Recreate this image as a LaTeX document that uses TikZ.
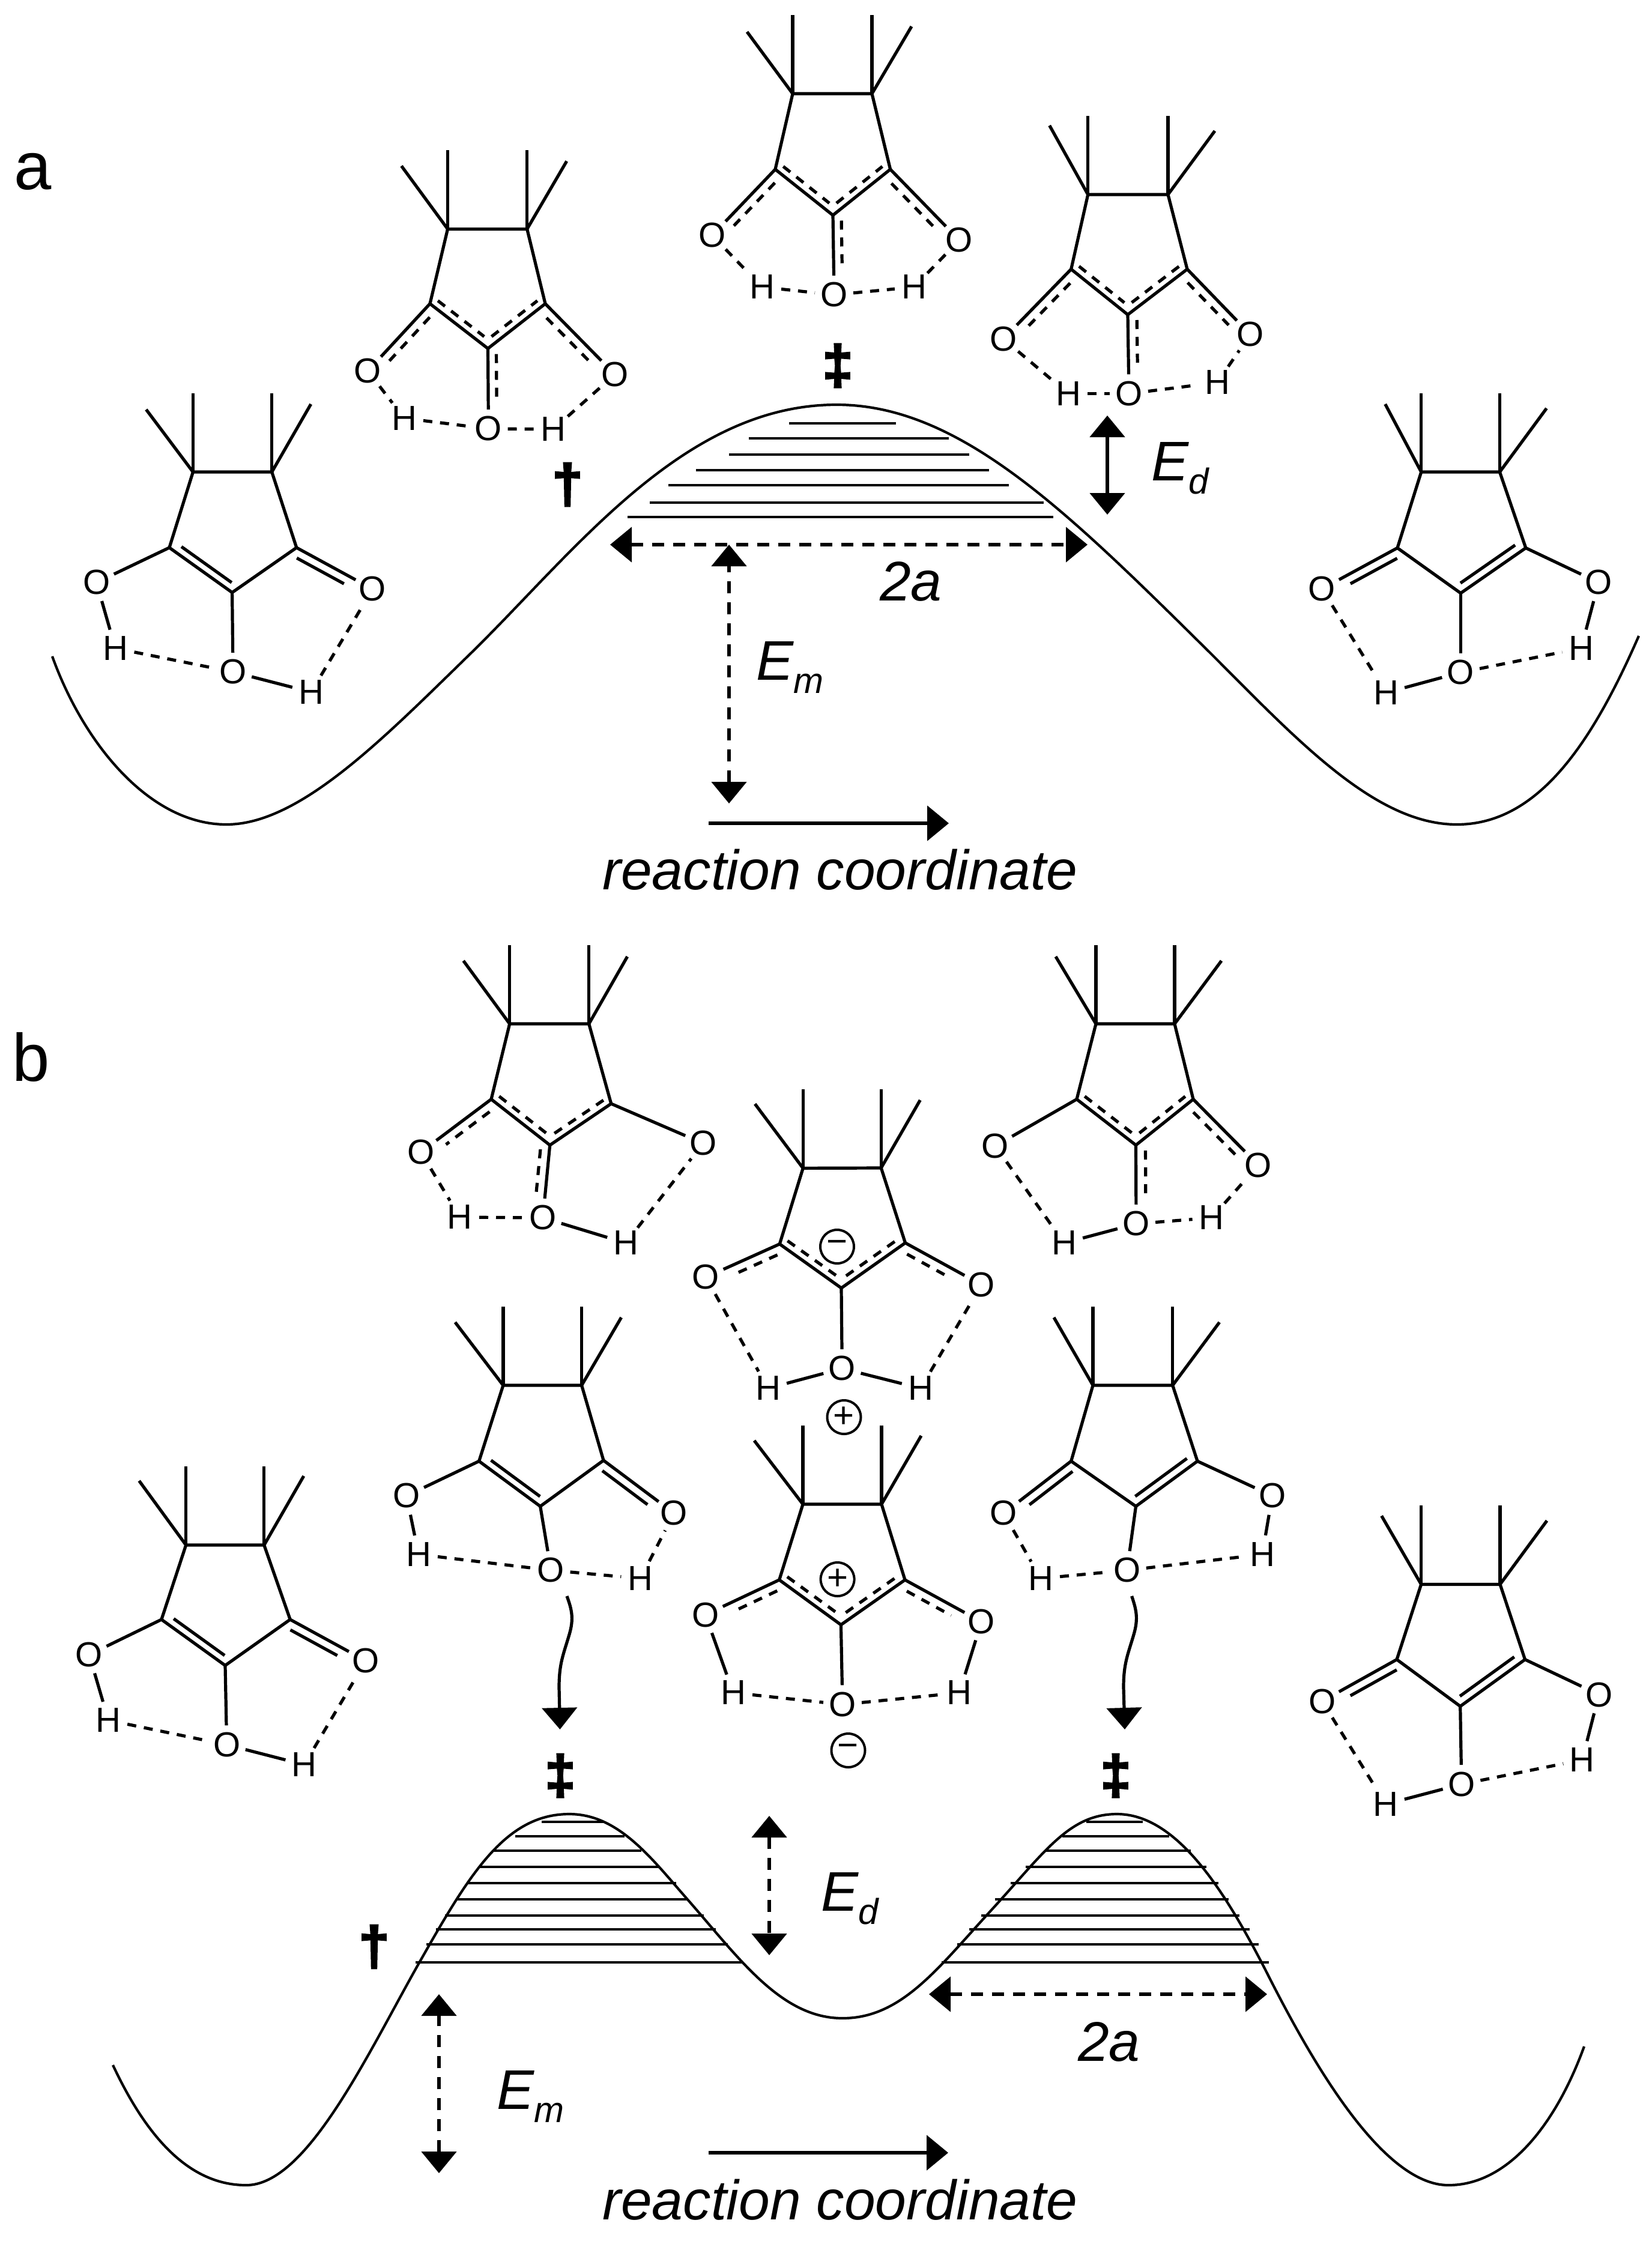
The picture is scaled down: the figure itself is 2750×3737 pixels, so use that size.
\documentclass[tikz,border=0pt]{standalone}
\usepackage{fontspec}
\setmainfont{Liberation Sans}
\newfontface\tsfont[FakeBold=4]{Liberation Sans Bold}
\usetikzlibrary{arrows.meta, calc}
\tikzset{
	bond/.style={line width=5.2pt},
	dashbond/.style={line width=5.2pt, dash pattern=on 15pt off 13pt},
	dblbond/.style={line width=5.2pt},
	level/.style={line width=4pt},
	pes/.style={line width=4.2pt},
	atom/.style={circle, inner sep=0pt, minimum size=64pt, font=\fontsize{58pt}{58pt}\selectfont},
	charge/.style={circle, draw, line width=4pt, inner sep=0pt, minimum size=56pt, font=\fontsize{60pt}{60pt}\selectfont},
	lab/.style={inner sep=0pt, anchor=base west, font=\fontsize{93pt}{100pt}\selectfont\itshape},
	panel/.style={inner sep=0pt, anchor=base west, font=\fontsize{112pt}{112pt}\selectfont},
	ts/.style={inner sep=0pt, font=\fontsize{90pt}{90pt}\tsfont},
	gap/.style={line width=5.2pt, <->},
	gapdash/.style={line width=5.2pt, <->, dash pattern=on 20pt off 15pt}
}
\newcommand{\ringcore}[8]{%
	\coordinate (#1t1) at (#2);
	\coordinate (#1t2) at (#3);
	\coordinate (#1c1) at (#4);
	\coordinate (#1c2) at (#5);
	\coordinate (#1c3) at (#6);
	\draw[bond] (#1c1) -- (#1t1) -- (#1t2) -- (#1c3) -- (#1c2) -- cycle;
	\draw[bond] (#1t1) -- ++(#7) coordinate (#1m1);
	\draw[bond] (#1t1) -- ++(0,-131) coordinate (#1m2);
	\draw[bond] (#1t2) -- ++(0,-131) coordinate (#1m3);
	\draw[bond] (#1t2) -- ++(#8) coordinate (#1m4);
}
\newcommand{\atomset}[6]{%
	\node[atom] (#1OL) at (#2){O};
	\node[atom] (#1OM) at (#3){O};
	\node[atom] (#1OR) at (#4){O};
	\node[atom] (#1HL) at (#5){H};
	\node[atom] (#1HR) at (#6){H};
}
\newcommand{\solidbonds}[2]{\foreach \aa/\bb in {#2}{\draw[bond] (#1\aa) -- (#1\bb);}}
\newcommand{\hbonds}[2]{\foreach \aa/\bb in {#2}{\draw[dashbond] (#1\aa) -- (#1\bb);}}
\newcommand{\parbond}[6][dashbond]{\draw[#1] ($(#2)!#5!(#3)!#4pt!90:(#3)$) -- ($(#2)!#6!(#3)!#4pt!90:(#3)$);}
\newcommand{\sublab}[2]{#1\raisebox{-22pt}{\fontsize{60pt}{60pt}\selectfont #2}}
\begin{document}
\begin{tikzpicture}[x=1pt, y=-1pt, >={Triangle[length=36pt,width=58pt]}]
	\useasboundingbox (0,0) rectangle (2750,3737);

	% panel a
	\node[panel] (pana) at (23,315){a};
	\ringcore{aone}{321.4,786}{452.7,786}{282,912}{386.6,986.7}{493.8,912}{-78,-104}{65,-113}
	\atomset{aone}{160.7,970}{388,1119}{620.5,981}{192,1079.6}{518,1152.6}
	\solidbonds{aone}{c1/OL,c2/OM,c3/OR,OL/HL,OM/HR}
	\hbonds{aone}{HL/OM,HR/OR}
	\parbond[dblbond]{aonec1}{aonec2}{13}{.12}{.92}
	\parbond[dblbond]{aonec3}{aoneOR}{-15}{.06}{.68}

	\ringcore{atwo}{745.5,381.4}{877.7,381.4}{716,505.8}{812.5,580.4}{908,505.8}{-77,-105}{66,-113}
	\atomset{atwo}{612.5,617.7}{813.4,714}{1024,623.6}{673,696.5}{921.4,714.8}
	\solidbonds{atwo}{c1/OL,c2/OM,c3/OR}
	\hbonds{atwo}{OL/HL,HL/OM,OM/HR,HR/OR}
	\parbond{atwoc1}{atwoc2}{12}{.06}{.86}
	\parbond{atwoc2}{atwoc3}{12}{.14}{.94}
	\parbond{atwoc1}{atwoOL}{15}{.11}{.76}
	\parbond{atwoc3}{atwoOR}{-15}{.11}{.76}
	\parbond{atwoc2}{atwoOM}{14}{.07}{.64}

	\ringcore{atop}{1320,156}{1452,156}{1291,282}{1387,358.4}{1482.6,282}{-76,-103}{66,-112}
	\atomset{atop}{1186,392}{1389,491}{1597.5,400}{1269,478}{1522,478}
	\solidbonds{atop}{c1/OL,c2/OM,c3/OR}
	\hbonds{atop}{OL/HL,HL/OM,OM/HR,HR/OR}
	\parbond{atopc1}{atopc2}{12}{.06}{.86}
	\parbond{atopc2}{atopc3}{12}{.14}{.94}
	\parbond{atopc1}{atopOL}{15}{.11}{.76}
	\parbond{atopc3}{atopOR}{-15}{.11}{.76}
	\parbond{atopc2}{atopOM}{14}{.07}{.64}

	\ringcore{afour}{1811.7,324}{1945,324}{1783.7,448.3}{1878,524}{1977,448.3}{-64,-115}{78,-106}
	\atomset{afour}{1670.8,564.4}{1880,655.6}{2082,557}{1779,655.6}{2027,637}
	\solidbonds{afour}{c1/OL,c2/OM,c3/OR}
	\hbonds{afour}{OL/HL,HL/OM,OM/HR,HR/OR}
	\parbond{afourc1}{afourc2}{12}{.06}{.86}
	\parbond{afourc2}{afourc3}{12}{.14}{.94}
	\parbond{afourc1}{afourOL}{15}{.11}{.76}
	\parbond{afourc3}{afourOR}{-15}{.11}{.76}
	\parbond{afourc2}{afourOM}{15}{.07}{.64}

	\ringcore{afive}{2366.7,786}{2497.4,786}{2327,912.5}{2432.4,987.8}{2540.8,912.5}{-60,-113}{78,-106}
	\atomset{afive}{2201.5,980.7}{2432.4,1119.8}{2662,970}{2308,1153.6}{2633,1079.6}
	\solidbonds{afive}{c1/OL,c2/OM,c3/OR,HL/OM,HR/OR}
	\hbonds{afive}{OL/HL,OM/HR}
	\parbond[dblbond]{afivec1}{afiveOL}{15}{.06}{.68}
	\parbond[dblbond]{afivec2}{afivec3}{14}{.07}{.91}

	\node[ts] (tsa) at (1395,609){‡};
	\node[ts] (da) at (945,807){†};

	\draw[pes] (87,1093) .. controls (140,1240) and (250,1373) .. (377,1373)
		.. controls (500,1373) and (640,1228) .. (786,1086)
		.. controls (960,915) and (1140,674) .. (1393,674)
		.. controls (1600,674) and (1780,855) .. (2016,1088)
		.. controls (2160,1232) and (2290,1373) .. (2426,1373)
		.. controls (2560,1373) and (2650,1240) .. (2729,1059);
	\foreach \yy/\xa/\xb in {705/1314/1492, 730/1247/1580, 757/1214/1614, 783/1159/1647, 808/1113/1680, 837/1082/1738, 861/1045/1754}{
		\draw[level] (\xa,\yy) -- (\xb,\yy);
	}
	\coordinate (aspanl) at (1016,907);
	\coordinate (aspanr) at (1811,907);
	\coordinate (ametop) at (1214,907);
	\coordinate (amebot) at (1214,1338);
	\coordinate (adetop) at (1844,692);
	\coordinate (adebot) at (1844,857);
	\coordinate (arcl) at (1180,1371);
	\coordinate (arcr) at (1580,1371);
	\draw[gapdash] (aspanl) -- (aspanr);
	\draw[gapdash] (amebot) -- (ametop);
	\draw[gap] (adetop) -- (adebot);
	\draw[line width=5.2pt, ->] (arcl) -- (arcr);
	\node[lab] (aEm) at (1259,1132){\sublab{E}{m}};
	\node[lab] (aEd) at (1917,800){\sublab{E}{d}};
	\node[lab] (atwoa) at (1465,1000){2a};
	\node[lab] (arc) at (1003,1481){reaction coordinate};

	% panel b
	\node[panel] (panb) at (20,1800){b};
	\ringcore{bleft}{309.7,2573}{439.8,2573}{268.9,2697}{375,2773.5}{483.2,2697}{-78,-107}{66,-115}
	\atomset{bleft}{148.5,2755.6}{377.6,2905.6}{609.2,2765.8}{180.6,2864.8}{506.6,2938.8}
	\solidbonds{bleft}{c1/OL,c2/OM,c3/OR,OL/HL,OM/HR}
	\hbonds{bleft}{HL/OM,HR/OR}
	\parbond[dblbond]{bleftc1}{bleftc2}{13}{.12}{.92}
	\parbond[dblbond]{bleftc3}{bleftOR}{-15}{.06}{.68}

	\ringcore{bup}{848.7,1705}{980.7,1705}{818,1830.6}{915.7,1907}{1017.7,1838}{-77,-105}{64,-112}
	\atomset{bup}{700.8,1918.6}{904,2028}{1170.8,1904}{765.8,2027}{1042,2070}
	\solidbonds{bup}{c1/OL,c2/OM,c3/OR,OM/HR}
	\hbonds{bup}{OL/HL,HL/OM,HR/OR}
	\parbond{bupc1}{bupc2}{12}{.06}{.86}
	\parbond{bupc2}{bupc3}{12}{.14}{.94}
	\parbond{bupc1}{bupOL}{15}{.1}{.72}
	\parbond{bupc2}{bupOM}{-15}{.07}{.68}

	\ringcore{blow}{837.9,2307}{968.6,2307}{797.7,2433.3}{899.7,2508.5}{1005,2432}{-80,-105}{66,-113}
	\atomset{blow}{677,2491}{917.5,2615}{1122.5,2520}{697,2588.6}{1066.4,2628.6}
	\solidbonds{blow}{c1/OL,c2/OM,c3/OR,OL/HL}
	\hbonds{blow}{HL/OM,OM/HR,HR/OR}
	\parbond[dblbond]{blowc1}{blowc2}{13}{.12}{.92}
	\parbond[dblbond]{blowc3}{blowOR}{-15}{.06}{.7}

	\ringcore{bcup}{1337.2,1945.4}{1467.3,1945}{1298.3,2071.7}{1401,2145}{1507.5,2069.8}{-80,-107}{65,-113}
	\atomset{bcup}{1175.3,2127}{1402.3,2279}{1634.4,2139.5}{1279,2312}{1533,2312}
	\solidbonds{bcup}{c1/OL,c2/OM,c3/OR,HL/OM,OM/HR}
	\hbonds{bcup}{OL/HL,HR/OR}
	\parbond{bcupc1}{bcupc2}{12}{.06}{.86}
	\parbond{bcupc2}{bcupc3}{12}{.14}{.94}
	\parbond{bcupc1}{bcupOL}{15}{.08}{.66}
	\parbond{bcupc3}{bcupOR}{-15}{.08}{.66}
	\node[charge] (minup) at (1394,2076){−};
	\node[charge] (plusup) at (1405.5,2360){+};

	\ringcore{bclow}{1337,2505}{1468,2505}{1297.7,2631}{1400.4,2705.8}{1507,2631}{-81,-106}{66,-114}
	\atomset{bclow}{1174.6,2689}{1403,2838.5}{1634.4,2700.8}{1221,2819}{1597.5,2819}
	\solidbonds{bclow}{c1/OL,c2/OM,c3/OR,OL/HL,HR/OR}
	\hbonds{bclow}{HL/OM,OM/HR}
	\parbond{bclowc1}{bclowc2}{12}{.06}{.86}
	\parbond{bclowc2}{bclowc3}{12}{.14}{.94}
	\parbond{bclowc1}{bclowOL}{15}{.08}{.66}
	\parbond{bclowc3}{bclowOR}{-15}{.08}{.66}
	\node[charge] (pluslow) at (1394.6,2630){+};
	\node[charge] (minlow) at (1412.5,2915){−};

	\ringcore{bur}{1825,1705}{1956,1705}{1793,1830.6}{1891.5,1907}{1987,1830.6}{-67,-112}{78,-105}
	\atomset{bur}{1657.4,1908.4}{1892,2038}{2095.5,1940.3}{1772,2070}{2017.7,2028}
	\solidbonds{bur}{c1/OL,c2/OM,c3/OR,HL/OM}
	\hbonds{bur}{OL/HL,OM/HR,HR/OR}
	\parbond{burc1}{burc2}{12}{.06}{.86}
	\parbond{burc2}{burc3}{12}{.14}{.94}
	\parbond{burc3}{burOR}{-15}{.1}{.76}
	\parbond{burc2}{burOM}{16}{.07}{.68}

	\ringcore{blr}{1820,2307}{1952.7,2307}{1783.7,2433.3}{1891.5,2508.5}{1994,2433.3}{-65,-113}{78,-105}
	\atomset{blr}{1671.4,2520}{1876.8,2615}{2118.6,2491}{1733,2628.6}{2102,2588.6}
	\solidbonds{blr}{c1/OL,c2/OM,c3/OR,HR/OR}
	\hbonds{blr}{OL/HL,HL/OM,OM/HR}
	\parbond[dblbond]{blrc1}{blrOL}{15}{.06}{.7}
	\parbond[dblbond]{blrc2}{blrc3}{14}{.07}{.91}

	\ringcore{bright}{2366.6,2638.4}{2498,2638.4}{2326,2763.6}{2431.7,2841.5}{2539.5,2763.6}{-66,-114}{78,-106}
	\atomset{bright}{2201.6,2833}{2433.8,2971.3}{2662.6,2822}{2307.7,3004.5}{2634.8,2930.7}
	\solidbonds{bright}{c1/OL,c2/OM,c3/OR,HL/OM,HR/OR}
	\hbonds{bright}{OL/HL,OM/HR}
	\parbond[dblbond]{brightc1}{brightOL}{15}{.06}{.68}
	\parbond[dblbond]{brightc2}{brightc3}{14}{.07}{.91}

	\coordinate (wavelstart) at (944,2658);
	\coordinate (wavelend) at (932.5,2880);
	\coordinate (waverstart) at (1884.6,2658);
	\coordinate (waverend) at (1873,2880);
	\draw[bond, ->] (wavelstart) .. controls (952,2680) and (956,2695) .. (948,2722) .. controls (938,2756) and (931,2770) .. (931,2810) -- (wavelend);
	\draw[bond, ->] (waverstart) .. controls (1892,2680) and (1896,2695) .. (1888,2722) .. controls (1878,2756) and (1871,2770) .. (1871,2810) -- (waverend);

	\node[ts] (tsbl) at (933,2957){‡};
	\node[ts] (tsbr) at (1858,2957){‡};
	\node[ts] (db) at (623,3242){†};

	\draw[pes] (188,3439) .. controls (240,3550) and (310,3639) .. (410,3639)
		.. controls (510,3639) and (610,3425) .. (695,3274)
		.. controls (780,3124) and (840,3021) .. (948,3021)
		.. controls (1030,3021) and (1085,3095) .. (1143,3161)
		.. controls (1230,3260) and (1300,3361) .. (1403,3361)
		.. controls (1500,3361) and (1560,3280) .. (1648,3184)
		.. controls (1740,3084) and (1780,3021) .. (1860,3021)
		.. controls (1960,3021) and (2040,3150) .. (2107,3280)
		.. controls (2180,3425) and (2300,3639) .. (2412,3639)
		.. controls (2510,3639) and (2590,3540) .. (2638,3408);
	\foreach \yy/\xa/\xb/\xc/\xd in {3034/902/1005/1809/1903, 3058/858/1040/1769/1947, 3082/821/1068/1740/1983, 3109/798/1099/1708/2009, 3136/778/1126/1683/2029, 3163/759/1145/1657/2046, 3190/741/1172/1634/2064, 3213/726/1192/1614/2081, 3238/710/1212/1594/2096, 3268/692/1237/1568/2113}{
		\draw[level] (\xa,\yy) -- (\xb,\yy);
		\draw[level] (\xc,\yy) -- (\xd,\yy);
	}
	\coordinate (bspanl) at (1547,3321);
	\coordinate (bspanr) at (2110,3321);
	\coordinate (bmetop) at (731,3321);
	\coordinate (bmebot) at (731,3619);
	\coordinate (bdetop) at (1281,3024);
	\coordinate (bdebot) at (1281,3256);
	\coordinate (brcl) at (1180,3585);
	\coordinate (brcr) at (1579,3585);
	\draw[gapdash] (bspanl) -- (bspanr);
	\draw[gapdash] (bmebot) -- (bmetop);
	\draw[gapdash] (bdetop) -- (bdebot);
	\draw[line width=5.2pt, ->] (brcl) -- (brcr);
	\node[lab] (bEm) at (827,3512){\sublab{E}{m}};
	\node[lab] (bEd) at (1367,3182){\sublab{E}{d}};
	\node[lab] (btwoa) at (1795,3432){2a};
	\node[lab] (brc) at (1003,3696){reaction coordinate};
\end{tikzpicture}
\end{document}
